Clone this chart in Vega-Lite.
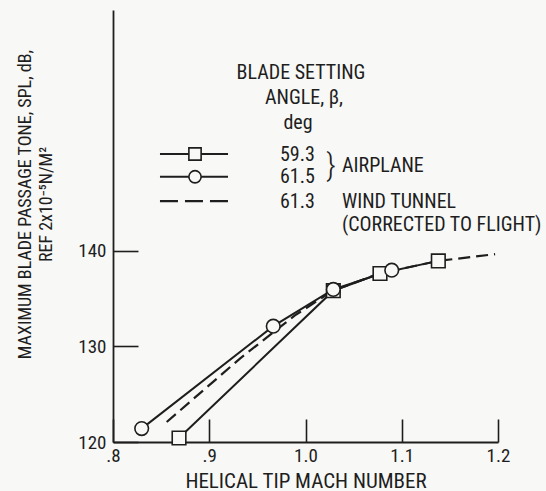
{
  "$schema": "https://vega.github.io/schema/vega-lite/v6.json",
  "width": 385,
  "height": 432,
  "autosize": {"type": "none"},
  "padding": {"left": 113, "top": 10, "right": 48, "bottom": 49},
  "background": "#f8f8f6",
  "config": {
    "view": {"stroke": null},
    "font": "Roboto Condensed, Arial Narrow, Roboto, sans-serif",
    "text": {"font": "Roboto Condensed, Arial Narrow, Roboto, sans-serif", "color": "#1e1e1e"}
  },
  "datasets": {
    "points": [
      {"series": "59.3", "x": 0.8686, "y": 120.42},
      {"series": "59.3", "x": 1.0289, "y": 135.83},
      {"series": "59.3", "x": 1.0774, "y": 137.63},
      {"series": "59.3", "x": 1.138, "y": 138.95},
      {"series": "61.5", "x": 0.8298, "y": 121.4},
      {"series": "61.5", "x": 0.9665, "y": 132.12},
      {"series": "61.5", "x": 1.0289, "y": 135.96},
      {"series": "61.5", "x": 1.0896, "y": 137.98}
    ],
    "tunnel": [
      {"series": "61.3", "x": 0.8558, "y": 122.09},
      {"series": "61.3", "x": 0.9319, "y": 128.73},
      {"series": "61.3", "x": 0.989, "y": 133.25},
      {"series": "61.3", "x": 1.0289, "y": 135.85},
      {"series": "61.3", "x": 1.0774, "y": 137.65},
      {"series": "61.3", "x": 1.138, "y": 138.95},
      {"series": "61.3", "x": 1.197, "y": 139.65}
    ],
    "legendLines": [
      {"series": "59.3", "x": 0.8488, "y": 150.13},
      {"series": "59.3", "x": 0.9195, "y": 150.13},
      {"series": "61.5", "x": 0.8488, "y": 147.75},
      {"series": "61.5", "x": 0.9195, "y": 147.75}
    ],
    "legendDash": [
      {"series": "61.3", "x": 0.8488, "y": 145.2},
      {"series": "61.3", "x": 0.9195, "y": 145.2}
    ],
    "legendPoints": [
      {"series": "59.3", "x": 0.8852, "y": 150.13},
      {"series": "61.5", "x": 0.8852, "y": 147.75}
    ],
    "headings": [
      {"label": "BLADE SETTING", "x": 0.9953, "y": 157.95},
      {"label": "ANGLE, β,", "x": 0.9984, "y": 155.4},
      {"label": "deg", "x": 0.9922, "y": 152.8}
    ],
    "labels": [
      {"label": "59.3", "x": 0.9735, "y": 150.02},
      {"label": "61.5", "x": 0.9735, "y": 147.69},
      {"label": "61.3", "x": 0.9735, "y": 145.13},
      {"label": "AIRPLANE", "x": 1.0379, "y": 148.87},
      {"label": "WIND TUNNEL", "x": 1.0379, "y": 145.15},
      {"label": "(CORRECTED TO FLIGHT)", "x": 1.0379, "y": 142.66}
    ],
    "brace": [
      {"label": "}", "x": 1.0265, "y": 148.92}
    ]
  },
  "encoding": {
    "x": {
      "field": "x",
      "type": "quantitative",
      "scale": {"domain": [0.8, 1.2], "nice": false, "zero": false},
      "axis": {
        "title": "HELICAL TIP MACH NUMBER",
        "values": [0.8, 0.9, 1.0, 1.1, 1.2],
        "labelExpr": "datum.value < 0.95 ? substring(format(datum.value, '.1f'), 1) : format(datum.value, '.1f')",
        "grid": false,
        "domainColor": "#1e1e1e",
        "domainWidth": 1.8,
        "tickColor": "#1e1e1e",
        "tickWidth": 1.6,
        "tickSize": -23,
        "labelFontSize": 19,
        "labelColor": "#1e1e1e",
        "labelPadding": 27,
        "labelFlush": false,
        "titleFontSize": 21,
        "titleFontWeight": "normal",
        "titleColor": "#1e1e1e",
        "titlePadding": 5
      }
    },
    "y": {
      "field": "y",
      "type": "quantitative",
      "scale": {"domain": [120, 165.2], "nice": false, "zero": false},
      "axis": {
        "title": ["MAXIMUM BLADE PASSAGE TONE, SPL, dB,", "REF 2x10⁻⁵N/M²"],
        "values": [120, 130, 140],
        "grid": false,
        "domainColor": "#1e1e1e",
        "domainWidth": 1.8,
        "tickColor": "#1e1e1e",
        "tickWidth": 1.6,
        "tickSize": -25,
        "labelFontSize": 19,
        "labelColor": "#1e1e1e",
        "labelPadding": 32,
        "labelFlush": false,
        "titleFontSize": 18,
        "titleFontWeight": "normal",
        "titleColor": "#1e1e1e",
        "titleAngle": -90,
        "titleAlign": "center",
        "titleBaseline": "middle",
        "titleLineHeight": 21,
        "titleX": -88,
        "titleY": 194
      }
    }
  },
  "layer": [
    {
      "data": {"name": "points"},
      "mark": {"type": "line", "color": "#1e1e1e", "strokeWidth": 2},
      "encoding": {"detail": {"field": "series"}, "order": {"field": "x"}}
    },
    {
      "data": {"name": "tunnel"},
      "mark": {"type": "line", "color": "#1e1e1e", "strokeWidth": 2.2, "strokeDash": [12, 6]},
      "encoding": {"order": {"field": "x"}}
    },
    {
      "data": {"name": "points"},
      "mark": {"type": "point", "filled": false, "fill": "#f8f8f6", "fillOpacity": 1, "stroke": "#1e1e1e", "strokeWidth": 1.6, "size": 185, "opacity": 1},
      "encoding": {
        "shape": {"field": "series", "type": "nominal", "scale": {"domain": ["59.3", "61.5"], "range": ["square", "circle"]}, "legend": null}
      }
    },
    {
      "data": {"name": "legendLines"},
      "mark": {"type": "line", "color": "#1e1e1e", "strokeWidth": 2},
      "encoding": {"detail": {"field": "series"}}
    },
    {
      "data": {"name": "legendDash"},
      "mark": {"type": "line", "color": "#1e1e1e", "strokeWidth": 2.2, "strokeDash": [18, 7]},
      "encoding": {}
    },
    {
      "data": {"name": "legendPoints"},
      "mark": {"type": "point", "filled": false, "fill": "#f8f8f6", "fillOpacity": 1, "stroke": "#1e1e1e", "strokeWidth": 1.6, "size": 150, "opacity": 1},
      "encoding": {
        "shape": {"field": "series", "type": "nominal", "scale": {"domain": ["59.3", "61.5"], "range": ["square", "circle"]}, "legend": null}
      }
    },
    {
      "data": {"name": "headings"},
      "mark": {"type": "text", "fontSize": 20, "align": "center", "baseline": "alphabetic"},
      "encoding": {"text": {"field": "label"}}
    },
    {
      "data": {"name": "labels"},
      "mark": {"type": "text", "fontSize": 20, "align": "left", "baseline": "middle"},
      "encoding": {"text": {"field": "label"}}
    },
    {
      "data": {"name": "brace"},
      "mark": {"type": "text", "fontSize": 32, "fontWeight": 300, "align": "center", "baseline": "middle"},
      "encoding": {"text": {"field": "label"}}
    }
  ]
}
